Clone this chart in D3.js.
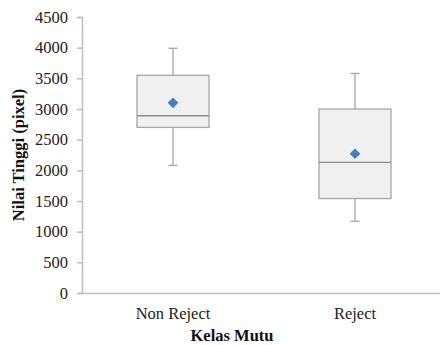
<!DOCTYPE html>
<html><head><meta charset="utf-8">
<script src="https://cdn.jsdelivr.net/npm/d3@7"></script>
<style>body{margin:0;background:#fff}svg{display:block}svg text{font-family:"Liberation Serif","Times New Roman","DejaVu Serif",serif}</style>
</head><body><svg id="c" width="440" height="345"></svg>
<script>
const categories = ["Non Reject", "Reject"];
const minVals = [2080, 1170];
const q1Vals = [2700, 1540];
const medianVals = [2890, 2130];
const q3Vals = [3550, 3000];
const maxVals = [3990, 3580];
const meanVals = [3100, 2270];
const yTicks = [0, 500, 1000, 1500, 2000, 2500, 3000, 3500, 4000, 4500];

const svg = d3.select("#c");
const x = d3.scaleBand().domain(categories).range([82, 446]);
const y = d3.scaleLinear().domain([0, 4500]).range([293, 17]);
const axisCol = "#bfbfbf";

// y axis
const ya = svg.append("g").attr("transform", "translate(82,0)")
  .call(d3.axisLeft(y).tickValues(yTicks).tickSize(5).tickPadding(9).tickFormat(d3.format("d")));
ya.attr("font-family", null);
ya.select(".domain").attr("stroke", axisCol).attr("stroke-width", 1.5);
ya.selectAll(".tick line").attr("stroke", axisCol).attr("stroke-width", 1.5);
ya.selectAll("text").style("font-size", "16.5px").attr("fill", "#222");

// x axis
const xa = svg.append("g").attr("transform", "translate(0,293)")
  .call(d3.axisBottom(x).tickSize(0).tickPadding(14));
xa.attr("font-family", null);
xa.select(".domain").attr("stroke", axisCol).attr("stroke-width", 1.5);
xa.selectAll("text").style("font-size", "16.5px").attr("fill", "#222");

const data = categories.map((c, i) => ({c, min: minVals[i], q1: q1Vals[i], med: medianVals[i], q3: q3Vals[i], max: maxVals[i], mean: meanVals[i]}));
const boxW = 72, capW = 9;
const stroke = "#a6a6a6";
const g = svg.append("g").selectAll("g").data(data).join("g");
const cx = d => x(d.c) + x.bandwidth() / 2;
g.append("line").attr("x1", cx).attr("x2", cx).attr("y1", d => y(d.max)).attr("y2", d => y(d.q3)).attr("stroke", stroke).attr("stroke-width", 1.3);
g.append("line").attr("x1", cx).attr("x2", cx).attr("y1", d => y(d.q1)).attr("y2", d => y(d.min)).attr("stroke", stroke).attr("stroke-width", 1.3);
g.append("line").attr("x1", d => cx(d) - capW / 2).attr("x2", d => cx(d) + capW / 2).attr("y1", d => y(d.max)).attr("y2", d => y(d.max)).attr("stroke", stroke).attr("stroke-width", 1.3);
g.append("line").attr("x1", d => cx(d) - capW / 2).attr("x2", d => cx(d) + capW / 2).attr("y1", d => y(d.min)).attr("y2", d => y(d.min)).attr("stroke", stroke).attr("stroke-width", 1.3);
g.append("rect").attr("x", d => cx(d) - boxW / 2).attr("width", boxW)
  .attr("y", d => y(d.q3)).attr("height", d => y(d.q1) - y(d.q3))
  .attr("fill", "#f0f0f0").attr("stroke", stroke).attr("stroke-width", 1.3);
g.append("line").attr("x1", d => cx(d) - boxW / 2).attr("x2", d => cx(d) + boxW / 2).attr("y1", d => y(d.med)).attr("y2", d => y(d.med)).attr("stroke", "#8c8c8c").attr("stroke-width", 1.3);
g.append("path").attr("d", d3.symbol(d3.symbolDiamond2, 72)())
  .attr("transform", d => `translate(${cx(d)},${y(d.mean)})`).attr("fill", "#4a7ebb");

// titles
svg.append("text").attr("x", 232).attr("y", 341).attr("text-anchor", "middle")
  .style("font-weight", "bold").style("font-size", "16.5px").attr("fill", "#111").text("Kelas Mutu");
svg.append("text").attr("transform", "translate(24,155) rotate(-90)").attr("text-anchor", "middle")
  .style("font-weight", "bold").style("font-size", "16.5px").attr("fill", "#111").text("Nilai Tinggi (pixel)");
</script></body></html>
